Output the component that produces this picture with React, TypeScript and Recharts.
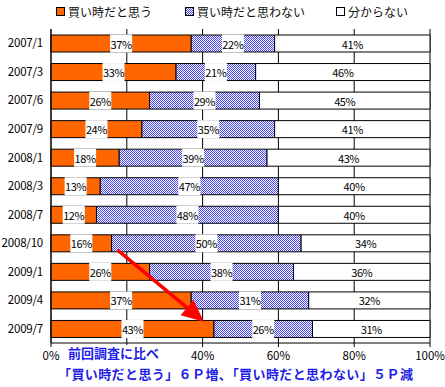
import React from "react";
import {
  Bar,
  BarChart,
  CartesianGrid,
  LabelList,
  ReferenceLine,
  XAxis,
  YAxis,
} from "recharts";

const categories = [
  "2007/1",
  "2007/3",
  "2007/6",
  "2007/9",
  "2008/1",
  "2008/3",
  "2008/7",
  "2008/10",
  "2009/1",
  "2009/4",
  "2009/7",
];
const thinkBuy = [37, 33, 26, 24, 18, 13, 12, 16, 26, 37, 43];
const notBuy = [22, 21, 29, 35, 39, 47, 48, 50, 38, 31, 26];
const unknown = [41, 46, 45, 41, 43, 40, 40, 34, 36, 32, 31];
const xTicks = [0, 20, 40, 60, 80, 100];
// 20% label sits under the note in the original, so it is not printed
const hiddenTicks = [20];
const boundaryTicks = [1, 2, 3, 4, 5, 6, 7, 8, 9, 10];
const seriesNames = ["買い時だと思う", "買い時だと思わない", "分からない"];

const data = categories.map((name, i) => ({
  name,
  a: thinkBuy[i],
  b: notBuy[i],
  c: unknown[i],
}));

const FONT = "'Noto Sans CJK JP', 'Liberation Sans', sans-serif";
const ORANGE = "#ff6600";

const makeLabel = (boxed: boolean) => (props: any) => {
  const x = Number(props.x);
  const y = Number(props.y);
  const w = Number(props.width);
  const h = Number(props.height);
  const cx = x + w / 2;
  const cy = y + h / 2;
  return (
    <g>
      {boxed && (
        <rect x={cx - 11} y={y - 0.5} width={22} height={h + 1} fill="#fff" />
      )}
      <text
        x={cx}
        y={cy}
        textAnchor="middle"
        dominantBaseline="central"
        fontSize={11}
        fontFamily={FONT}
        fill="#000"
        letterSpacing={-0.4}
      >
        {props.value}%
      </text>
    </g>
  );
};

const Arrow = (p: any) => {
  const sx = Number(p.x1) + 6;
  const sy = Number(p.y1) + 7;
  const ex = Number(p.x2) - 10;
  const ey = Number(p.y2) - 7;
  const len = Math.hypot(ex - sx, ey - sy);
  const ux = (ex - sx) / len;
  const uy = (ey - sy) / len;
  const head = 22;
  const half = 10;
  const bx = ex - ux * head;
  const by = ey - uy * head;
  return (
    <g>
      <line x1={sx} y1={sy} x2={bx} y2={by} stroke="#ff0000" strokeWidth={3.5} />
      <polygon
        points={`${ex},${ey} ${bx - uy * half},${by + ux * half} ${bx + uy * half},${by - ux * half}`}
        fill="#ff0000"
      />
    </g>
  );
};

const Swatch = ({ kind }: { kind: number }) => (
  <svg width={9} height={9} style={{ marginRight: 3 }}>
    <defs>
      <pattern id={`lg${kind}`} width={2} height={2} patternUnits="userSpaceOnUse">
        <rect width={2} height={2} fill="#fff" />
        <rect width={1} height={1} fill="#4646ff" />
        <rect x={1} y={1} width={1} height={1} fill="#4646ff" />
      </pattern>
    </defs>
    <rect
      x={0.5}
      y={0.5}
      width={8}
      height={8}
      fill={kind === 0 ? ORANGE : kind === 1 ? `url(#lg${kind})` : "#fff"}
      stroke="#000"
    />
  </svg>
);

export default function App() {
  const legendX = [56, 185, 336];
  return (
    <div
      style={{
        position: "absolute",
        left: 0,
        top: 0,
        width: 445,
        height: 387,
        background: "#fff",
        fontFamily: FONT,
      }}
    >
      {seriesNames.map((n, i) => (
        <div
          key={n}
          style={{
            position: "absolute",
            left: legendX[i],
            top: 3,
            height: 16,
            display: "flex",
            alignItems: "center",
            fontSize: 12,
            color: "#111",
            whiteSpace: "nowrap",
          }}
        >
          <Swatch kind={i} />
          {n}
        </div>
      ))}
      <BarChart
        width={445}
        height={387}
        data={data}
        layout="vertical"
        barSize={17}
        margin={{ top: 29, right: 15, left: 0, bottom: 24 }}
      >
        <defs>
          <pattern id="checks" width={2} height={2} patternUnits="userSpaceOnUse">
            <rect width={2} height={2} fill="#ffffff" />
            <rect width={1} height={1} fill="#4646ff" />
            <rect x={1} y={1} width={1} height={1} fill="#4646ff" />
          </pattern>
        </defs>
        <CartesianGrid
          xAxisId="main"
          yAxisId="cat"
          horizontal={false}
          stroke="#000"
          strokeOpacity={1}
        />
        <XAxis
          xAxisId="main"
          type="number"
          domain={[0, 100]}
          ticks={xTicks}
          tickFormatter={(v) => (hiddenTicks.includes(v) ? "" : `${v}%`)}
          height={20}
          tickSize={4}
          tickMargin={5}
          stroke="#000"
          interval={0}
          tick={{ fontSize: 11.5, fill: "#000", fontFamily: FONT }}
        />
        <XAxis
          xAxisId="top"
          orientation="top"
          type="number"
          domain={[0, 100]}
          height={0}
          tick={false}
          tickLine={false}
          stroke="#000"
        />
        <YAxis
          yAxisId="bounds"
          type="number"
          domain={[0, 11]}
          ticks={boundaryTicks}
          width={0}
          tick={false}
          mirror
          tickSize={4}
          axisLine={false}
          stroke="#000"
        />
        <YAxis
          yAxisId="cat"
          type="category"
          dataKey="name"
          width={51}
          tickLine={false}
          tickSize={6}
          tickMargin={2}
          stroke="#000"
          interval={0}
          tick={{ fontSize: 11.5, fill: "#000", fontFamily: FONT, letterSpacing: -0.2 }}
        />
        <Bar
          dataKey="a"
          stackId="s"
          xAxisId="main"
          yAxisId="cat"
          fill={ORANGE}
          stroke="#000"
          strokeWidth={1}
          isAnimationActive={false}
        >
          <LabelList dataKey="a" content={makeLabel(true)} />
        </Bar>
        <Bar
          dataKey="b"
          stackId="s"
          xAxisId="main"
          yAxisId="cat"
          fill="url(#checks)"
          stroke="#000"
          strokeWidth={1}
          isAnimationActive={false}
        >
          <LabelList dataKey="b" content={makeLabel(true)} />
        </Bar>
        <Bar
          dataKey="c"
          stackId="s"
          xAxisId="main"
          yAxisId="cat"
          fill="#fff"
          stroke="#000"
          strokeWidth={1}
          isAnimationActive={false}
        >
          <LabelList dataKey="c" content={makeLabel(false)} />
        </Bar>
        <ReferenceLine
          xAxisId="main"
          yAxisId="cat"
          segment={[
            { x: thinkBuy[7], y: categories[7] },
            { x: thinkBuy[10], y: categories[10] },
          ]}
          shape={Arrow}
        />
      </BarChart>
      <div
        style={{
          position: "absolute",
          left: 64,
          top: 345,
          padding: "0 4px",
          background: "#fff",
          color: "#1f1fe6",
          fontSize: 13,
          lineHeight: "16px",
          fontWeight: 700,
          whiteSpace: "nowrap",
        }}
      >
        前回調査に比べ
      </div>
      <div
        style={{
          position: "absolute",
          left: 58,
          top: 366,
          color: "#1f1fe6",
          fontSize: 13,
          lineHeight: "15px",
          fontWeight: 700,
          letterSpacing: 0.4,
          whiteSpace: "nowrap",
        }}
      >
        「買い時だと思う」６Ｐ増、「買い時だと思わない」５Ｐ減
      </div>
    </div>
  );
}
